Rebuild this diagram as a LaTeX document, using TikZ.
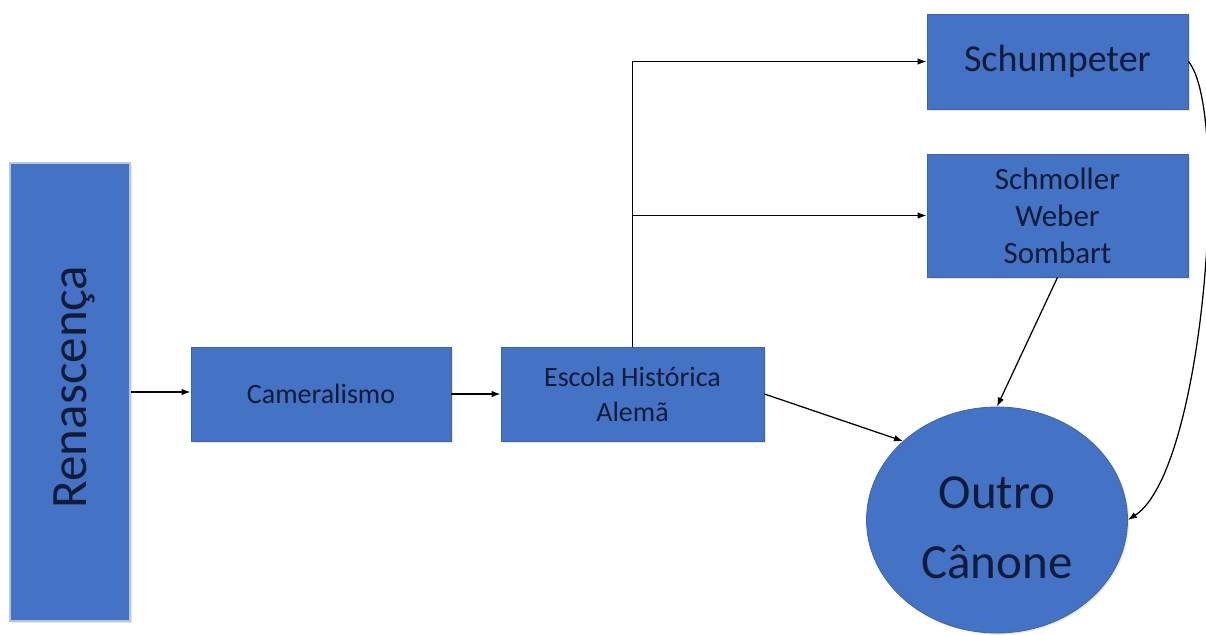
\documentclass[tikz,border=0pt]{standalone}
\usepackage{fontspec}
\usepackage{graphicx}
\setmainfont{Carlito}
\usetikzlibrary{arrows.meta,shapes.geometric,shadows}
\definecolor{boxblue}{HTML}{4472C4}
\definecolor{boxedge}{HTML}{3A64AE}
\definecolor{txt}{HTML}{111C38}
\definecolor{glow}{HTML}{B4C8E6}
\begin{document}
\begin{tikzpicture}[x=1pt,y=-1pt,
  box/.style={rectangle, fill=boxblue, draw=boxedge, line width=0.8pt, text=txt,
    align=center, inner sep=0pt,
    drop shadow={opacity=0.18, shadow xshift=1.5pt, shadow yshift=-1.5pt}},
  conn/.style={line width=1.25pt, -{Latex[length=9pt,width=6.5pt]}}]
\useasboundingbox (0,0) rectangle (1206,634);
\node[box, draw=glow, line width=2pt, minimum width=120pt, minimum height=458pt] (ren) at (70,392)
  {\hspace{8pt}\rotatebox{90}{\hspace{10pt}\fontsize{51}{60}\selectfont Renascença}};
\node[box, minimum width=260pt, minimum height=94pt, font=\fontsize{28}{34}\selectfont] (cam) at (321,394) {Cameralismo};
\node[box, minimum width=263pt, minimum height=94pt, font=\fontsize{28}{35}\selectfont] (esc) at (632.5,394) {Escola Histórica\\Alemã};
\node[box, minimum width=261pt, minimum height=95pt, font=\fontsize{38}{46}\selectfont] (sch) at (1057.5,61.5) {Schumpeter};
\node[box, minimum width=261pt, minimum height=123pt, font=\fontsize{31}{37}\selectfont] (smw) at (1057.5,215.5) {Schmoller\\Weber\\Sombart};
\node[ellipse, fill=boxblue, draw=boxedge, line width=0.8pt, inner sep=0pt,
  minimum width=261pt, minimum height=226pt,
  label={[text=txt, align=center, font=\fontsize{49}{70}\selectfont, yshift=-8pt]center:Outro\\Cânone},
  drop shadow={opacity=0.18, shadow xshift=1.5pt, shadow yshift=-1.5pt}] (out) at (997,520) {};
\draw[conn] (ren.east) -- (ren.east -| cam.west);
\draw[conn] (cam.east) -- (esc.west);
\draw[conn] (esc.north) |- (sch.west);
\coordinate (br) at (esc.north |- smw.west);
\draw[conn] (br) -- (smw.west);
\draw[conn] (esc.east) -- (out.140);
\draw[conn] (smw.south) -- (out.north);
\draw[conn] (sch.east) .. controls (1230,110) and (1205,470) .. (out.east);
\end{tikzpicture}
\end{document}
